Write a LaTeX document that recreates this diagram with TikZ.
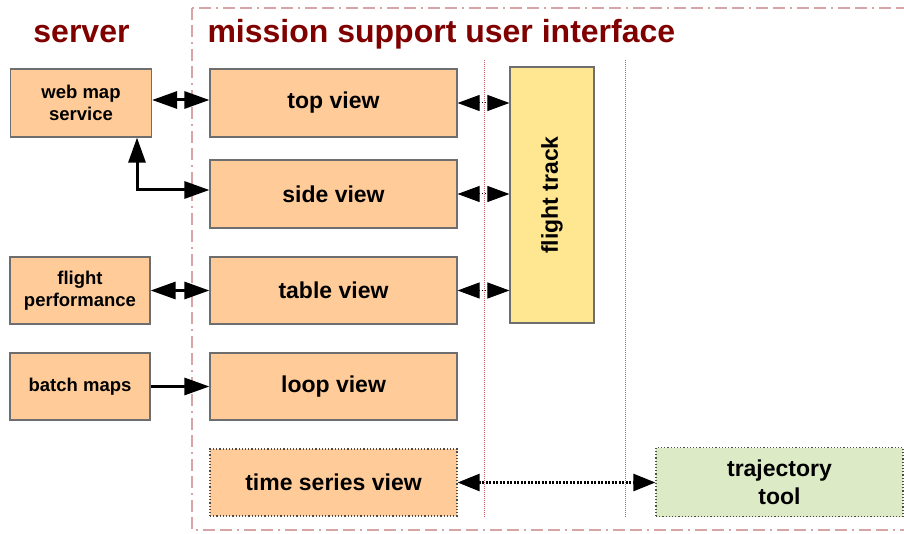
\documentclass[tikz,border=0pt]{standalone}
\usepackage{fontspec}
\setmainfont{Liberation Sans}
\usetikzlibrary{arrows.meta,calc}
\definecolor{viewfill}{RGB}{255,204,153}
\definecolor{trackfill}{RGB}{255,230,145}
\definecolor{toolfill}{RGB}{221,234,198}
\definecolor{boxline}{RGB}{110,110,110}
\definecolor{titlered}{RGB}{128,0,0}
\definecolor{framepink}{RGB}{215,165,165}
\definecolor{sepred}{RGB}{200,90,100}
\tikzset{
  box/.style={draw=boxline, line width=1.2pt, inner sep=0pt, align=center,
    font=\bfseries\fontsize{18.5}{22}\selectfont},
  viewbox/.style={box, fill=viewfill, minimum width=247pt, minimum height=68pt,
    font=\bfseries\fontsize{23}{28}\selectfont},
  srvbox/.style={box, fill=viewfill, minimum width=141pt, minimum height=68pt},
  dotbox/.style={dotted, draw=black!70},
  title/.style={text=titlered, font=\bfseries\fontsize{32}{36}\selectfont, anchor=base},
  bigarrow/.style={line width=3pt, {Triangle[length=25pt,width=17pt]}-{Triangle[length=25pt,width=17pt]}},
  linkarrow/.style={dotted, line width=1pt, {Triangle[length=22pt,width=16pt]}-{Triangle[length=22pt,width=16pt]}},
  seprule/.style={sepred, densely dotted, line width=1pt}
}
\begin{document}
\begin{tikzpicture}[x=1pt,y=-1pt]
			%%%%% START %%%%%
			\clip (0,0) rectangle (904,534);
			
			% user interface frame
			\draw[framepink, line width=1.5pt, dash pattern=on 12pt off 5pt on 12pt off 5pt on 2pt off 5pt] (192,8) rectangle (930,530);
			\draw[seprule] (484,60) -- (484,517);
			\draw[seprule] (625,60) -- (625,517);
			
			\node[title] (srvtitle) at (81.5,43) {server};
			\node[title, anchor=base west] (uititle) at (204,43) {mission support user interface};
			
			% server side
			\node[srvbox] (wms) at (81,103) {web map\\service};
			\node[srvbox, minimum width=140pt, minimum height=67pt] (perf) at (80,290.5) {flight\\performance};
			\node[srvbox, minimum width=140pt, minimum height=67pt] (batch) at (80,386.5) {batch maps};
			
			% views
			\node[viewbox] (top) at (333.5,103) {top view};
			\node[viewbox] (side) at (333.5,194) {side view};
			\node[viewbox, minimum height=67pt] (table) at (333.5,290.5) {table view};
			\node[viewbox, minimum height=67pt] (loop) at (333.5,386.5) {loop view};
			\node[viewbox, dotbox, minimum height=67pt] (tseries) at (333.5,482.5) {time series view};
			
			\node[box, fill=trackfill, minimum width=84pt, minimum height=256pt] (track) at (552,195) {};
			\node[font=\bfseries\fontsize{23}{28}\selectfont, rotate=90] (tracklabel) at (track.center) {flight track};
			\node[viewbox, dotbox, fill=toolfill, minimum height=69pt] (traj) at (779.5,482) {trajectory\\tool};
			
			% connections
			\draw[bigarrow] ([yshift=3pt]wms.east) -- ([yshift=3pt]top.west);
			\coordinate (wmsfoot) at ([xshift=56pt]wms.south);
			\draw[bigarrow] (wmsfoot) |- ([yshift=4pt]side.west);
			\draw[bigarrow] (perf.east) -- (table.west);
			\draw[line width=3pt, -{Triangle[length=25pt,width=17pt]}] (batch.east) -- (loop.west);
			
			\draw[linkarrow] (top.east) -- (top.east -| track.west);
			\draw[linkarrow] (side.east) -- (side.east -| track.west);
			\draw[linkarrow] (table.east) -- (table.east -| track.west);
			\draw[line width=2.5pt, dash pattern=on 2pt off 1.5pt, {Triangle[length=22pt,width=17pt]}-{Triangle[length=22pt,width=17pt]}] (tseries.east) -- (tseries.east -| traj.west);
			
			%%%%% END %%%%%
\end{tikzpicture}
\end{document}
